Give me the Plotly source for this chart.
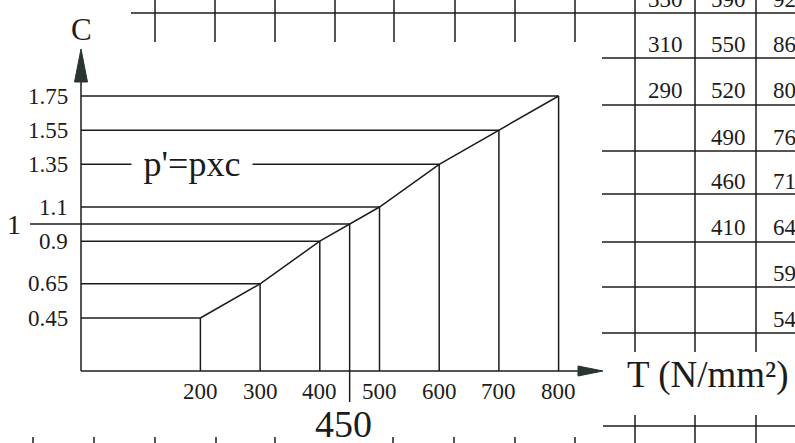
import plotly.graph_objects as go

# values
t_vals = [200, 300, 400, 450, 500, 600, 700, 800]
c_vals = [0.45, 0.65, 0.9, 1.0, 1.1, 1.35, 1.55, 1.75]
x_ticks = [200, 300, 400, 500, 600, 700, 800]
x_tick_text = ["200", "300", "400", "500", "600", "700", "800"]
y_ticks = [0.45, 0.65, 0.9, 1.1, 1.35, 1.55, 1.75]
y_tick_text = ["0.45", "0.65", "0.9", "1.1", "1.35", "1.55", "1.75"]
marked_t = 450
marked_c = 1.0

# table fragment on the right, cut by the picture edges
col1 = ["330", "310", "290"]
col2 = ["590", "550", "520", "490", "460", "410"]
col3 = ["92", "86", "80", "76", "71", "64", "59", "54"]

W, H = 795, 443
FONT = "Liberation Serif, Times New Roman, serif"
INK = "#1c1c1c"
LW = 1.5

# pixel <-> data mapping of the drawing
X0, KX = 81, 0.597      # T=0 at x=81 px, 0.597 px per N/mm2
Y045, KY = 318, 170.77  # C=0.45 at y=318 px


def tx(px):
    return (px - X0) / KX


def cy(py):
    return 0.45 + (Y045 - py) / KY


def P(px, py):
    return px / W, 1 - py / H


c_axis = cy(371)

fig = go.Figure()

# horizontal guides from the C axis to each point
hx, hy = [], []
for t, c in zip(t_vals, c_vals):
    start = tx(30) if c == marked_c else 0
    hx += [start, t, None]
    hy += [c, c, None]
fig.add_trace(go.Scatter(x=hx, y=hy, mode="lines", line=dict(color=INK, width=LW),
                         hoverinfo="skip"))

# vertical guides from each point down to the T axis
vx, vy = [], []
for t, c in zip(t_vals, c_vals):
    bottom = cy(402) if t == marked_t else c_axis
    vx += [t, t, None]
    vy += [c, bottom, None]
fig.add_trace(go.Scatter(x=vx, y=vy, mode="lines", line=dict(color=INK, width=LW),
                         hoverinfo="skip"))

# the C(T) line
fig.add_trace(go.Scatter(x=t_vals, y=c_vals, mode="lines", line=dict(color=INK, width=LW),
                         name="C"))

shapes = []
# axes
shapes.append(dict(type="line", xref="x", yref="y", x0=0, y0=c_axis, x1=tx(582), y1=c_axis,
                   line=dict(color=INK, width=LW)))
shapes.append(dict(type="line", xref="x", yref="y", x0=0, y0=c_axis, x1=0, y1=cy(80),
                   line=dict(color=INK, width=LW)))


def tri(a, b, c):
    pts = [P(*a), P(*b), P(*c)]
    return "M {},{} L {},{} L {},{} Z".format(*[v for p in pts for v in p])


shapes.append(dict(type="path", xref="paper", yref="paper", path=tri((603, 371), (578, 366), (578, 376)),
                   fillcolor="#2a3430", line=dict(color="#2a3430", width=1)))
shapes.append(dict(type="path", xref="paper", yref="paper", path=tri((81, 49), (74.5, 82), (87.5, 82)),
                   fillcolor="#2a3430", line=dict(color="#2a3430", width=1)))


def seg(x0, y0, x1, y1):
    a, b = P(x0, y0), P(x1, y1)
    return dict(type="line", xref="paper", yref="paper", x0=a[0], y0=a[1], x1=b[0], y1=b[1],
                line=dict(color=INK, width=LW))


# surrounding table grid
shapes.append(seg(131, 13, 795, 13))
for x in [155, 215, 275, 335, 394, 455, 515, 575]:
    shapes.append(seg(x, 0, x, 42))
table_x = [635, 695, 756]
row_lines = [13, 58, 105, 151, 194, 242, 287, 333]
for x in table_x:
    shapes.append(seg(x, 0, x, 352))
    shapes.append(seg(x, 415, x, 443))
for y in row_lines[1:]:
    shapes.append(seg(602, y, 795, y))
shapes.append(seg(603, 426, 795, 426))
for x in [33, 94, 155, 216, 275, 393, 454, 515, 575]:
    shapes.append(seg(x, 437, x, 443))

annotations = []
for c, s in zip(y_ticks, y_tick_text):
    annotations.append(dict(x=0, y=c, xref="x", yref="y", text=s, showarrow=False,
                            xanchor="right", yanchor="middle", xshift=-11,
                            font=dict(family=FONT, size=23, color=INK)))
for t, s in zip(x_ticks, x_tick_text):
    annotations.append(dict(x=t, y=c_axis, xref="x", yref="y", text=s, showarrow=False,
                            xanchor="center", yanchor="top", yshift=-6,
                            font=dict(family=FONT, size=23, color=INK)))

annotations.append(dict(x=marked_t, y=P(0, 424)[1], xref="x", yref="paper", text=str(marked_t),
                        showarrow=False, xanchor="center", yanchor="middle", xshift=-6,
                        font=dict(family=FONT, size=38, color=INK)))
annotations.append(dict(x=P(14, 0)[0], y=marked_c, xref="paper", yref="y", text="1",
                        showarrow=False, xanchor="center", yanchor="middle",
                        font=dict(family=FONT, size=28, color=INK)))
annotations.append(dict(x=tx(192), y=1.35, xref="x", yref="y", text="p'=pxc", showarrow=False,
                        xanchor="center", yanchor="middle", bgcolor="white", width=118,
                        font=dict(family=FONT, size=36, color=INK)))
annotations.append(dict(x=P(81, 0)[0], y=P(0, 30)[1], xref="paper", yref="paper", text="C",
                        showarrow=False, xanchor="center", yanchor="middle",
                        font=dict(family=FONT, size=31, color=INK)))
annotations.append(dict(x=P(625, 0)[0], y=P(0, 375)[1], xref="paper", yref="paper",
                        text="T (N/mm²)", showarrow=False, xanchor="left", yanchor="middle",
                        font=dict(family=FONT, size=37, color=INK)))

# table text
row_mid = [-1] + [(a + b) / 2 + 9 for a, b in zip(row_lines[:-1], row_lines[1:])]
for col, xc, anchor in [(col1, 665, "center"), (col2, 728, "center"), (col3, 771, "left")]:
    for i, s in enumerate(col):
        px, py = P(xc, row_mid[i])
        annotations.append(dict(x=px, y=py, xref="paper", yref="paper", text=s, showarrow=False,
                                xanchor=anchor, yanchor="middle",
                                font=dict(family=FONT, size=23, color=INK)))

fig.update_layout(
    width=W, height=H,
    margin=dict(l=0, r=0, t=0, b=0),
    paper_bgcolor="white", plot_bgcolor="white",
    showlegend=False,
    xaxis=dict(visible=False, range=[tx(0), tx(W)], fixedrange=True),
    yaxis=dict(visible=False, range=[cy(H), cy(0)], fixedrange=True),
    shapes=shapes,
    annotations=annotations,
)

# the page body has a default 8px margin; drop it so the figure fills the window
fig.write_html("out.html", config={"displayModeBar": False},
               post_script="document.body.style.margin='0';")
